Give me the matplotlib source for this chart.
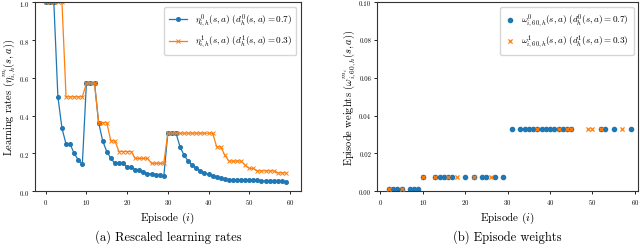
import matplotlib
matplotlib.use("Agg")
import matplotlib.pyplot as plt

plt.rcParams['font.family'] = 'serif'
plt.rcParams['font.serif'] = ['cmr10', 'DejaVu Serif']
plt.rcParams['mathtext.fontset'] = 'cm'
plt.rcParams['axes.formatter.use_mathtext'] = True
plt.rcParams['axes.unicode_minus'] = False

# ---- data: learning rates (panel a) ----
episodes = list(range(60))
eta0 = [1.0, 1.0, 1.0, 0.5, 0.3333, 0.25, 0.25, 0.2, 0.1667, 0.1429,
        0.5714, 0.5714, 0.5714, 0.3636, 0.2667, 0.2105, 0.1739, 0.1481, 0.1481, 0.1481,
        0.1290, 0.1290, 0.1143, 0.1143, 0.1026, 0.0930, 0.0930, 0.0851, 0.0851, 0.0784,
        0.3077, 0.3077, 0.3077, 0.2353, 0.1905, 0.16, 0.1379, 0.1212, 0.1081, 0.0976,
        0.0889, 0.0816, 0.0755, 0.0702, 0.0656, 0.0615, 0.0615, 0.0615, 0.0615, 0.0615,
        0.0615, 0.0615, 0.0580, 0.0548, 0.0548, 0.0519, 0.0519, 0.0519, 0.0519, 0.0494]
eta1 = [1.0, 1.0, 1.0, 1.0, 1.0, 0.5, 0.5, 0.5, 0.5, 0.5,
        0.5714, 0.5714, 0.5714, 0.3636, 0.3636, 0.3636, 0.2667, 0.2667, 0.2105, 0.2105,
        0.2105, 0.2105, 0.1739, 0.1739, 0.1739, 0.1739, 0.1481, 0.1481, 0.1481, 0.1481,
        0.3077, 0.3077, 0.3077, 0.3077, 0.3077, 0.3077, 0.3077, 0.3077, 0.3077, 0.3077,
        0.3077, 0.3077, 0.2353, 0.2353, 0.1905, 0.16, 0.16, 0.16, 0.16, 0.1379,
        0.1212, 0.1212, 0.1081, 0.1081, 0.1081, 0.1081, 0.1081, 0.0976, 0.0976, 0.0976]

# ---- data: episode weights (panel b) ----
w0_episodes = [2, 3, 4, 5, 7, 8, 9,
               10, 13, 14, 15, 16, 17, 20, 22, 24, 25, 27, 29,
               31, 33, 34, 35, 36, 37, 38, 39, 40, 41, 42, 43, 44, 45, 52, 53, 55, 59]
w0_values = [0.0013] * 7 + [0.0077] * 12 + [0.0329] * 18
w1_episodes = [2, 5,
               10, 13, 16, 18, 22, 26,
               37, 42, 44, 45, 49, 50, 52, 57]
w1_values = [0.0013] * 2 + [0.0077] * 6 + [0.0329] * 8

label_eta0 = r'$\eta^{0}_{i,h}(s,a)\ (d^{0}_{h}(s,a) = 0.7)$'
label_eta1 = r'$\eta^{1}_{i,h}(s,a)\ (d^{1}_{h}(s,a) = 0.3)$'
label_w0 = r'$\omega^{0}_{i,60,h}(s,a)\ (d^{0}_{h}(s,a) = 0.7)$'
label_w1 = r'$\omega^{1}_{i,60,h}(s,a)\ (d^{1}_{h}(s,a) = 0.3)$'

fig = plt.figure(figsize=(6.4, 2.51), dpi=100)
ax1 = fig.add_axes([0.0542, 0.2339, 0.4161, 0.7530])
ax2 = fig.add_axes([0.5886, 0.2339, 0.4087, 0.7530])

blue = '#1f77b4'
orange = '#ff7f0e'

ax1.plot(episodes, eta0, color=blue, marker='o', markersize=2.6, linewidth=0.9, label=label_eta0)
ax1.plot(episodes, eta1, color=orange, marker='x', markersize=2.6, markeredgewidth=0.7,
         linewidth=0.9, label=label_eta1)
ax1.set_ylim(0, 1.0)
ax1.set_xlim(-2.7, 62.7)
ax1.set_xticks([0, 10, 20, 30, 40, 50, 60])
ax1.set_yticks([0.0, 0.2, 0.4, 0.6, 0.8, 1.0])
ax1.set_xlabel(r'Episode $(i)$', fontsize=8, labelpad=3)
ax1.set_ylabel(r'Learning rates $(\eta^{m_i}_{i,h}(s,a))$', fontsize=7.5, labelpad=0.3)
ax1.legend(loc='upper right', fontsize=6.6, handlelength=2.0, borderpad=0.5, labelspacing=0.5)

ax2.scatter(w0_episodes, w0_values, color=blue, marker='o', s=9, label=label_w0, zorder=2)
ax2.scatter(w1_episodes, w1_values, color=orange, marker='x', s=9, linewidths=0.9, label=label_w1, zorder=3)
ax2.set_ylim(0, 0.1)
ax2.set_xlim(-0.85, 60.8)
ax2.set_xticks([0, 10, 20, 30, 40, 50, 60])
ax2.set_yticks([0.0, 0.02, 0.04, 0.06, 0.08, 0.10])
ax2.set_yticklabels(['0.00', '0.02', '0.04', '0.06', '0.08', '0.10'])
ax2.set_xlabel(r'Episode $(i)$', fontsize=8, labelpad=3)
ax2.set_ylabel(r'Episode weights $(\omega^{m_i}_{i,60,h}(s,a))$', fontsize=7.5, labelpad=1.0)
ax2.legend(loc='upper right', fontsize=6.6, handlelength=1.0, borderpad=0.5, labelspacing=0.5)

for ax in (ax1, ax2):
    ax.tick_params(labelsize=4.8, length=2.5, width=0.6, pad=1.5)
    for sp in ax.spines.values():
        sp.set_linewidth(0.8)
        sp.set_color('#333333')

fig.text(0.2623, 0.055, '(a) Rescaled learning rates', ha='center', va='center', fontsize=9)
fig.text(0.7930, 0.055, '(b) Episode weights', ha='center', va='center', fontsize=9)

fig.savefig('out.png', dpi=100)
